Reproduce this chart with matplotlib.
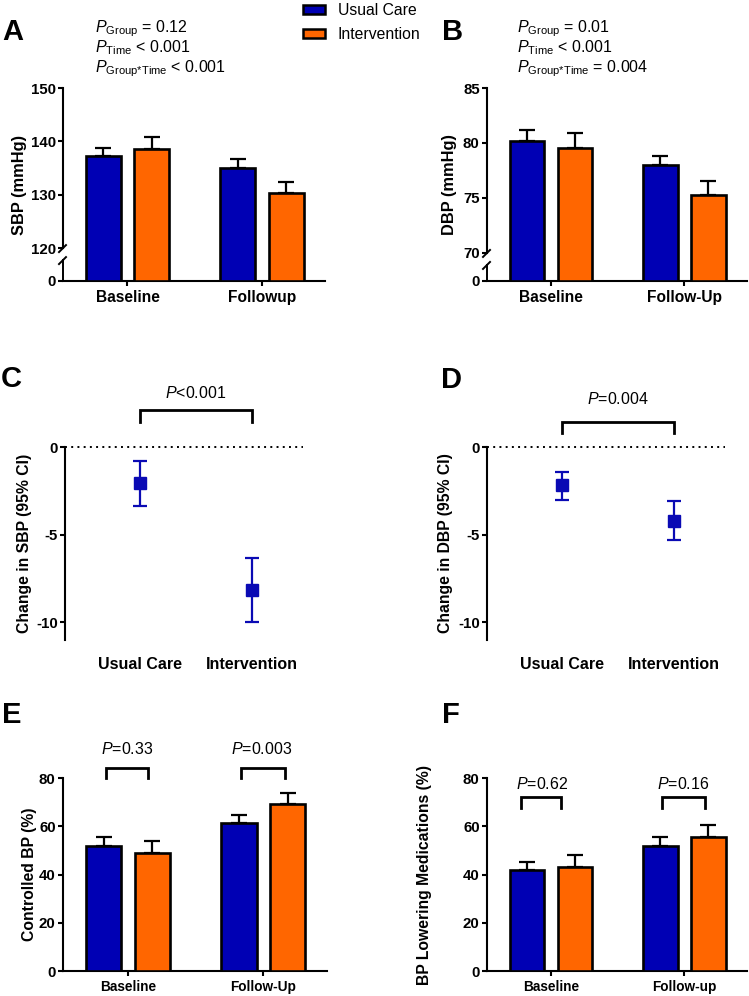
"""Blutdruck-Ergebnisse: sechs Panels (A-F) wie in der Vorlage."""
import numpy as np

import matplotlib

matplotlib.use("Agg")
import matplotlib.pyplot as plt  # noqa: E402
from matplotlib.patches import Patch  # noqa: E402

plt.rcParams["font.family"] = ["Liberation Sans", "DejaVu Sans"]
plt.rcParams["mathtext.fontset"] = "custom"
plt.rcParams["mathtext.rm"] = "Liberation Sans"
plt.rcParams["mathtext.it"] = "Liberation Sans:italic"
plt.rcParams["mathtext.bf"] = "Liberation Sans:bold"

W, H = 749, 996
BLUE = "#0000B4"
ORANGE = "#FF6600"
MARK = "#0A0AB4"

groups = ["Usual Care", "Intervention"]

# A: SBP
sbp_labels = ["Baseline", "Followup"]
sbp_uc = [137.2, 135.1]
sbp_uc_top = [138.7, 136.7]
sbp_int = [138.5, 130.4]
sbp_int_top = [140.9, 132.3]
sbp_p = [("Group", "= 0.12"), ("Time", "< 0.001"), ("Group{*}Time", "< 0.001")]

# B: DBP
dbp_labels = ["Baseline", "Follow-Up"]
dbp_uc = [80.2, 78.0]
dbp_uc_top = [81.15, 78.85]
dbp_int = [79.5, 75.3]
dbp_int_top = [80.9, 76.5]
dbp_p = [("Group", "= 0.01"), ("Time", "< 0.001"), ("Group{*}Time", "= 0.004")]

# C / D: Veraenderung mit 95%-KI
sbp_change = [-2.06, -8.17]
sbp_change_lo = [-3.37, -10.0]
sbp_change_hi = [-0.8, -6.34]
sbp_change_p = "<0.001"

dbp_change = [-2.17, -4.2]
dbp_change_lo = [-3.0, -5.3]
dbp_change_hi = [-1.45, -3.07]
dbp_change_p = "=0.004"

# E: kontrollierter Blutdruck
ctrl_labels = ["Baseline", "Follow-Up"]
ctrl_uc = [51.9, 61.2]
ctrl_uc_top = [55.5, 64.7]
ctrl_int = [49.0, 69.2]
ctrl_int_top = [54.0, 73.9]
ctrl_p = ["0.33", "0.003"]

# F: blutdrucksenkende Medikamente
med_labels = ["Baseline", "Follow-up"]
med_uc = [41.9, 51.9]
med_uc_top = [45.2, 55.4]
med_int = [43.2, 55.7]
med_int_top = [48.2, 60.5]
med_p = ["0.62", "0.16"]

fig = plt.figure(figsize=(W / 100, H / 100), dpi=100)


def add_axes(left, top, right, bottom):
    return fig.add_axes([left / W, 1 - bottom / H, (right - left) / W, (bottom - top) / H])


def style(ax):
    for s in ("top", "right"):
        ax.spines[s].set_visible(False)
    for s in ("left", "bottom"):
        ax.spines[s].set_linewidth(1.5)
    ax.tick_params(width=1.5, length=3.8, pad=1.5, direction="out")


def bar_panel(ax, labels, uc, uc_top, iv, iv_top, xfs):
    style(ax)
    x = np.arange(len(labels))
    off, w = 0.18, 0.26
    for dx, vals, tops, color in ((-off, uc, uc_top, BLUE), (off, iv, iv_top, ORANGE)):
        vals = np.asarray(vals)
        tops = np.asarray(tops)
        ax.errorbar(x + dx, vals, yerr=[np.zeros_like(vals), tops - vals], fmt="none",
                    ecolor="black", elinewidth=1.6, capsize=5.8, capthick=1.6, zorder=2)
        ax.bar(x + dx, vals, w, color=color, edgecolor="black", linewidth=1.9, zorder=3)
    ax.set_xlim(-0.48, 1.47)
    ax.set_xticks(x, labels, fontweight="bold", fontsize=xfs)
    ax.tick_params(axis="x", pad=2.5)


def broken_axis(ax, lo, top, gap, ticks):
    def fwd(v):
        v = np.asarray(v, dtype=float)
        return np.where(v <= lo, v * gap / lo, gap + (v - lo))

    def inv(u):
        u = np.asarray(u, dtype=float)
        return np.where(u <= gap, u * lo / gap, lo + (u - gap))

    ax.set_yscale("function", functions=(fwd, inv))
    ax.set_ylim(0, top)
    ax.set_yticks(ticks, [str(t) for t in ticks], fontweight="bold", fontsize=10.8)
    ax.spines["left"].set_bounds(lo, top)
    pos = ax.get_position()
    wpx, hpx = pos.width * W, pos.height * H
    yb = float(fwd(lo) / fwd(top))
    yl = yb - 12 / hpx
    kw = dict(transform=ax.transAxes, clip_on=False, color="black", lw=1.4)
    ax.plot([0, 0], [0, yl], **kw)
    for yc in (yb, yl):
        ax.plot([-4 / wpx, 3 / wpx], [yc - 4 / hpx, yc + 3 / hpx], **kw)


def bracket(ax, x0, x1, y_top, y_leg, text, text_y, text_x=None):
    ax.plot([x0, x0, x1, x1], [y_leg, y_top, y_top, y_leg], color="black", lw=2,
            clip_on=False, solid_joinstyle="miter")
    if text_x is None:
        text_x = (x0 + x1) / 2
    ax.text(text_x, text_y, text, ha="center", va="baseline", fontsize=11.5, clip_on=False)


def ci_panel(ax, means, lo, hi):
    style(ax)
    x = np.arange(len(groups))
    means = np.asarray(means)
    ax.errorbar(x, means, yerr=[means - np.asarray(lo), np.asarray(hi) - means], fmt="s",
                color=MARK, ms=9, elinewidth=1.6, capsize=4.7, capthick=1.6, zorder=3)
    ax.axhline(0, color="black", ls=(0, (1, 2.2)), lw=1.4, zorder=1, clip_on=False)
    ax.set_xlim(-0.67, 1.46)
    ax.set_ylim(-11, 0)
    ax.set_yticks([0, -5, -10], ["0", "-5", "-10"], fontweight="bold", fontsize=10.8)
    ax.spines["bottom"].set_visible(False)
    ax.set_xticks(x, groups, fontweight="bold", fontsize=11.5)
    ax.tick_params(axis="x", length=0, pad=12)


def ylabel(ax, text, xpos, fs=11.3):
    ax.set_ylabel(text, fontweight="bold", fontsize=fs)
    ax.yaxis.set_label_coords(xpos, 0.5)


def panel_letter(x, y, s):
    fig.text(x / W, 1 - y / H, s, fontsize=21, fontweight="bold", va="baseline")


def p_lines(x, plist):
    for i, (sub, val) in enumerate(plist):
        fig.text(x / W, 1 - (32 + 20 * i) / H, r"$P_{\mathrm{%s}}$ %s" % (sub, val),
                 fontsize=11.5, va="baseline")


# A
axA = add_axes(63, 88, 325, 281)
bar_panel(axA, sbp_labels, sbp_uc, sbp_uc_top, sbp_int, sbp_int_top, 11.2)
broken_axis(axA, 120, 150, 6.17, [0, 120, 130, 140, 150])
ylabel(axA, "SBP (mmHg)", -0.137, 11.8)
panel_letter(2, 40, "A")
p_lines(95, sbp_p)

# B
axB = add_axes(487, 88, 747, 281)
bar_panel(axB, dbp_labels, dbp_uc, dbp_uc_top, dbp_int, dbp_int_top, 11.2)
broken_axis(axB, 70, 85, 2.55, [0, 70, 75, 80, 85])
ylabel(axB, "DBP (mmHg)", -0.115, 11.8)
panel_letter(442, 40, "B")
p_lines(517, dbp_p)

# Legende
handles = [Patch(facecolor=BLUE, edgecolor="black", linewidth=1.8),
           Patch(facecolor=ORANGE, edgecolor="black", linewidth=1.8)]
fig.legend(handles, groups, loc="upper left", bbox_to_anchor=(303 / W, 1 - 3 / H),
           frameon=False, fontsize=11.3, handlelength=1.4, handleheight=0.5,
           handletextpad=0.8, labelspacing=0.55, borderpad=0, borderaxespad=0)

# C
axC = add_axes(65, 447, 303, 640)
ci_panel(axC, sbp_change, sbp_change_lo, sbp_change_hi)
bracket(axC, 0, 1, 2.1, 1.43, r"$P$" + sbp_change_p, 2.8)
ylabel(axC, "Change in SBP (95% CI)", -0.139)
panel_letter(1, 387, "C")

# D
axD = add_axes(487, 447, 725, 640)
ci_panel(axD, dbp_change, dbp_change_lo, dbp_change_hi)
bracket(axD, 0, 1, 1.43, 0.8, r"$P$" + dbp_change_p, 2.46)
ylabel(axD, "Change in DBP (95% CI)", -0.143)
panel_letter(441, 388, "D")

# E
axE = add_axes(63, 778, 327, 971)
bar_panel(axE, ctrl_labels, ctrl_uc, ctrl_uc_top, ctrl_int, ctrl_int_top, 9.8)
axE.set_ylim(0, 80)
axE.set_yticks([0, 20, 40, 60, 80], ["0", "20", "40", "60", "80"], fontweight="bold", fontsize=10.8)
bracket(axE, -0.16, 0.145, 84.3, 80, r"$P$=" + ctrl_p[0], 89.9, -0.007)
bracket(axE, 0.836, 1.157, 84.3, 80, r"$P$=" + ctrl_p[1], 89.9, 0.99)
ylabel(axE, "Controlled BP (%)", -0.098)
panel_letter(2, 723, "E")

# F
axF = add_axes(487, 778, 747, 971)
bar_panel(axF, med_labels, med_uc, med_uc_top, med_int, med_int_top, 9.8)
axF.set_ylim(0, 80)
axF.set_yticks([0, 20, 40, 60, 80], ["0", "20", "40", "60", "80"], fontweight="bold", fontsize=10.8)
bracket(axF, -0.228, 0.078, 72.0, 67.6, r"$P$=" + med_p[0], 75.4, -0.064)
bracket(axF, 0.832, 1.153, 72.0, 67.6, r"$P$=" + med_p[1], 75.4, 0.99)
ylabel(axF, "BP Lowering Medications (%)", -0.21)
panel_letter(442, 723, "F")

fig.savefig("out.png", dpi=100)
plt.close(fig)
